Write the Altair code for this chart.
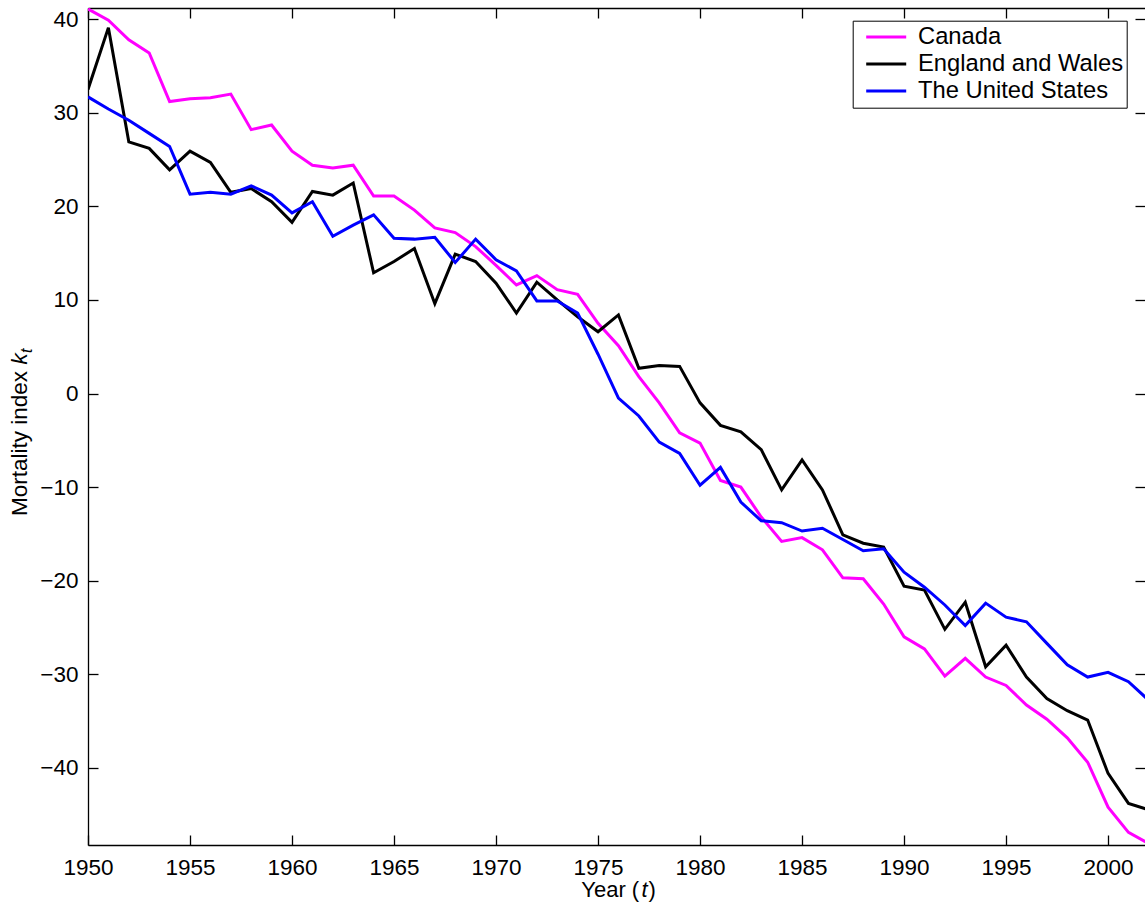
import altair as alt
import pandas as pd

# Lee-Carter mortality index k_t, 1950-2002
years = list(range(1950, 2003))

canada = [
    41.1, 39.9, 37.8, 36.4, 31.2, 31.5, 31.6, 32.0, 28.2, 28.7,
    25.9, 24.4, 24.1, 24.4, 21.1, 21.1, 19.6, 17.7, 17.2, 15.7,
    13.7, 11.6, 12.6, 11.1, 10.6, 7.5, 5.1, 1.8, -1.0, -4.2,
    -5.3, -9.3, -10.0, -13.2, -15.8, -15.4, -16.7, -19.7, -19.8, -22.5,
    -26.0, -27.3, -30.2, -28.3, -30.3, -31.2, -33.3, -34.8, -36.8, -39.4,
    -44.2, -46.9, -48.1,
]
england_wales = [
    32.5, 39.1, 26.9, 26.2, 23.9, 25.9, 24.7, 21.5, 21.9, 20.5,
    18.3, 21.6, 21.2, 22.5, 12.9, 14.1, 15.5, 9.6, 14.9, 14.1,
    11.8, 8.6, 11.9, 10.0, 8.2, 6.6, 8.4, 2.7, 3.0, 2.9,
    -1.0, -3.4, -4.1, -6.0, -10.3, -7.1, -10.3, -15.1, -16.0, -16.4,
    -20.6, -21.0, -25.2, -22.3, -29.2, -26.9, -30.3, -32.6, -33.9, -34.9,
    -40.6, -43.8, -44.5,
]
united_states = [
    31.7, 30.4, 29.2, 27.8, 26.4, 21.3, 21.5, 21.3, 22.2, 21.2,
    19.3, 20.5, 16.8, 18.0, 19.1, 16.6, 16.5, 16.7, 14.0, 16.5,
    14.3, 13.1, 9.9, 9.9, 8.6, 4.2, -0.5, -2.4, -5.2, -6.4,
    -9.8, -7.9, -11.6, -13.6, -13.8, -14.7, -14.4, -15.6, -16.8, -16.6,
    -19.1, -20.7, -22.6, -24.8, -22.4, -23.9, -24.4, -26.7, -29.0, -30.3,
    -29.8, -30.8, -32.8,
]

series_names = ["Canada", "England and Wales", "The United States"]
series_colors = ["#ff00ff", "#000000", "#0000ff"]
x_ticks = list(range(1950, 2001, 5))
y_ticks = list(range(-40, 41, 10))

rows = []
for name, vals in zip(series_names, [canada, england_wales, united_states]):
    for yr, v in zip(years, vals):
        rows.append({"year": yr, "kt": v, "series": name, "order": series_names.index(name)})
df = pd.DataFrame(rows)

W, H = 1057, 837
FONT = "Liberation Sans"
TICK_FS = 22.5

x_scale = alt.Scale(domain=[1950, 2001.81], nice=False, zero=False)
y_scale = alt.Scale(domain=[-48.25, 41.2], nice=False, zero=False)


def tick_axis(orient, values, domain):
    # inward-pointing tick marks only (no labels)
    off = -H if orient in ("top", "bottom") else -W
    return alt.Axis(
        orient=orient, offset=off, values=values, labels=False, grid=False,
        title=None, ticks=True, tickSize=10, tickColor="black", tickWidth=1.3,
        domain=domain, domainColor="black", domainWidth=1.3,
    )


lines = alt.Chart(df).mark_line(strokeWidth=3, clip=True).encode(
    x=alt.X(
        "year:Q", scale=x_scale,
        axis=alt.Axis(
            orient="bottom", values=x_ticks, format="d", ticks=False, tickSize=0,
            domain=True, domainColor="black", domainWidth=1.3, grid=False,
            title=None, labelFont=FONT, labelFontSize=TICK_FS, labelColor="black",
            labelPadding=11, labelFlush=False, labelOverlap=False,
        ),
    ),
    y=alt.Y(
        "kt:Q", scale=y_scale,
        axis=alt.Axis(
            orient="left", values=y_ticks, format="d", ticks=False, tickSize=0,
            domain=True, domainColor="black", domainWidth=1.3, grid=False,
            title=None, labelFont=FONT, labelFontSize=TICK_FS, labelColor="black",
            labelPadding=10, labelFlush=False, labelOverlap=False,
        ),
    ),
    color=alt.Color(
        "series:N",
        scale=alt.Scale(domain=series_names, range=series_colors),
        legend=alt.Legend(
            title=None, orient="none", legendX=764.7, legendY=12.7,
            symbolType="stroke", symbolSize=1600, symbolStrokeWidth=3,
            symbolOffset=9, clipHeight=26.7,
            labelFont=FONT, labelFontSize=23.75, labelColor="black",
            labelOffset=10.3, labelLimit=500,
            labelExpr="datum.label + '\u00a0\u00a0'",
            padding=3, rowPadding=0,
            strokeColor="black", fillColor="white",
        ),
    ),
    order="order:Q",
)

# tick marks on the bottom edge (pointing up) and left edge (pointing right)
ticks_a = alt.Chart(df).mark_line(opacity=0).encode(
    x=alt.X("year:Q", scale=x_scale, axis=tick_axis("top", x_ticks, False)),
    y=alt.Y("kt:Q", scale=y_scale, axis=tick_axis("right", y_ticks, False)),
)
# tick marks on the top edge (pointing down, with top border) and right edge
ticks_b = alt.Chart(df).mark_line(opacity=0).encode(
    x=alt.X("year:Q", scale=x_scale, axis=tick_axis("bottom", x_ticks, True)),
    y=alt.Y("kt:Q", scale=y_scale, axis=tick_axis("left", y_ticks, False)),
)

one = alt.Data(values=[{"k": 0}])


def label(text, x, y, size=22, angle=0, italic=False):
    return alt.Chart(one).mark_text(
        text=text, font=FONT, fontSize=size, color="black", align="left",
        baseline="alphabetic", angle=angle, fontStyle="italic" if italic else "normal",
    ).encode(x=alt.value(x), y=alt.value(y))


# x title: Year (t)
x_title = [
    label("Year (", 493.3, 888.7),
    label("t", 553.5, 888.7, italic=True),
    label(")", 560.5, 888.7),
]
# y title: Mortality index k_t
y_title = [
    label("Mortality index", -61, 508, size=TICK_FS, angle=270),
    label("k", -61, 356.5, size=TICK_FS, angle=270, italic=True),
    label("t", -56, 345, size=16, angle=270, italic=True),
]

chart = alt.layer(lines, ticks_a, ticks_b, *x_title, *y_title).resolve_axis(
    x="independent", y="independent"
).properties(
    width=W, height=H,
    autosize=alt.AutoSizeParams(type="none"),
    padding={"left": 88, "top": 8, "right": 0, "bottom": 69},
    background="white",
).configure_view(stroke=None)

chart.save("out.html", embed_options={"renderer": "svg", "actions": False})
